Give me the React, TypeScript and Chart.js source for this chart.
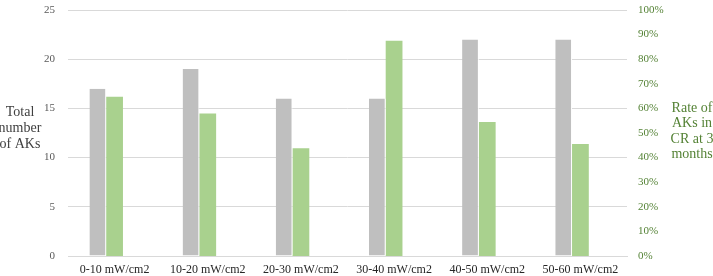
import React, { useEffect, useRef } from "react";
import { Chart, registerables } from "chart.js";

Chart.register(...registerables);

const categories = [
  "0-10 mW/cm2",
  "10-20 mW/cm2",
  "20-30 mW/cm2",
  "30-40 mW/cm2",
  "40-50 mW/cm2",
  "50-60 mW/cm2",
];
const totalAKs = [17, 19, 16, 16, 22, 22];
const crRatePct = [64.7, 57.9, 43.8, 87.5, 54.5, 45.5];
// empty third series keeps the clustered bars offset to the left of each category
const emptySeries = [null, null, null, null, null, null];

const leftTitle = ["Total", "number", "of AKs"];
const rightTitle = ["Rate of", "AKs in", "CR at 3", "months"];

const FONT = "'Liberation Serif', 'Times New Roman', serif";
Chart.defaults.font.family = FONT;

const axisTitles = {
  id: "axisTitles",
  afterDraw(chart: any) {
    const { ctx, chartArea } = chart;
    const mid = (chartArea.top + chartArea.bottom) / 2;
    ctx.save();
    ctx.font = `14px ${FONT}`;
    ctx.textAlign = "center";
    ctx.textBaseline = "middle";
    ctx.fillStyle = "#404040";
    const lh = 16;
    leftTitle.forEach((t, i) => {
      ctx.fillText(t, 20, mid - 5 + (i - (leftTitle.length - 1) / 2) * lh);
    });
    ctx.fillStyle = "#548235";
    const rh = 15.5;
    rightTitle.forEach((t, i) => {
      ctx.fillText(t, 692, mid - 1.5 + (i - (rightTitle.length - 1) / 2) * rh);
    });
    ctx.restore();
  },
};

const fitVertical = (width: number) => (s: any) => {
  s.width = width;
  s.paddingTop = 0;
  s.paddingBottom = 0;
};

export default function App() {
  const ref = useRef<HTMLCanvasElement>(null);

  useEffect(() => {
    document.body.style.margin = "0";
    const chart = new Chart(ref.current!, {
      type: "bar",
      data: {
        labels: categories,
        datasets: [
          {
            label: "Total number of AKs",
            data: totalAKs,
            backgroundColor: "#BFBFBF",
            borderColor: "#FFFFFF",
            borderWidth: { top: 0, left: 0, bottom: 0, right: 1 },
            borderSkipped: false,
            yAxisID: "y",
          },
          {
            label: "Rate of AKs in CR at 3 months",
            data: crRatePct,
            backgroundColor: "#A9D18E",
            borderWidth: 0,
            yAxisID: "y1",
          },
          {
            label: "",
            data: emptySeries as any,
            backgroundColor: "rgba(0,0,0,0)",
            yAxisID: "y",
          },
        ],
      },
      options: {
        animation: false,
        responsive: false,
        maintainAspectRatio: false,
        layout: { padding: { top: 10, left: 0, right: 0, bottom: 0 } },
        plugins: { legend: { display: false }, tooltip: { enabled: false } },
        datasets: { bar: { categoryPercentage: 0.54, barPercentage: 1 } },
        scales: {
          x: {
            grid: { display: false, drawTicks: false },
            border: { display: true, color: "#D9D9D9", width: 1 },
            ticks: {
              color: "#262626",
              font: { family: FONT, size: 12 },
              padding: 7,
              maxRotation: 0,
              autoSkip: false,
            },
            afterFit: (s: any) => {
              s.height = 20;
            },
          },
          y: {
            position: "left",
            min: 0,
            max: 25,
            grid: { color: "#D9D9D9", drawTicks: false },
            border: { display: false },
            ticks: {
              stepSize: 5,
              color: "#595959",
              font: { family: FONT, size: 11 },
              padding: 13,
            },
            afterFit: fitVertical(68),
          },
          y1: {
            position: "right",
            min: 0,
            max: 100,
            grid: { display: false, drawTicks: false },
            border: { display: false },
            ticks: {
              stepSize: 10,
              color: "#548235",
              font: { family: FONT, size: 11 },
              padding: 11,
              callback: (v: any) => `${v}%`,
            },
            afterFit: fitVertical(86),
          },
        },
      },
      plugins: [axisTitles],
    });
    return () => chart.destroy();
  }, []);

  return (
    <div style={{ width: 713, height: 276, background: "#fff" }}>
      <canvas ref={ref} width={713} height={276} style={{ display: "block" }} />
    </div>
  );
}
